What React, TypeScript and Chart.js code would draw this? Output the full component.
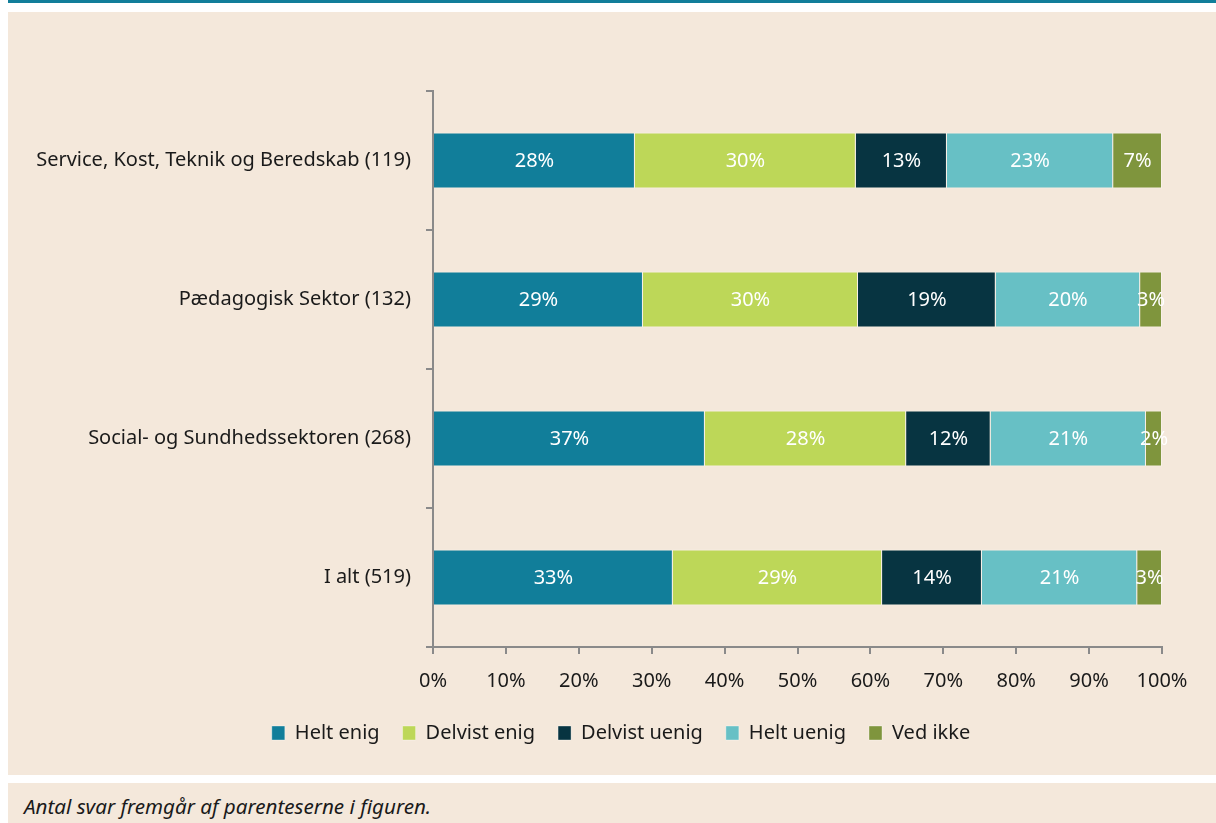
import React, { useEffect, useRef } from "react";
import { Chart, registerables } from "chart.js";

Chart.register(...registerables);

const categories = [
  "Service, Kost, Teknik og Beredskab (119)",
  "Pædagogisk Sektor (132)",
  "Social- og Sundhedssektoren (268)",
  "I alt (519)",
];
const seriesNames = ["Helt enig", "Delvist enig", "Delvist uenig", "Helt uenig", "Ved ikke"];
const heltEnig = [27.7, 28.8, 37.3, 32.9];
const delvistEnig = [30.3, 29.5, 27.6, 28.7];
const delvistUenig = [12.5, 18.9, 11.6, 13.7];
const heltUenig = [22.8, 19.8, 21.3, 21.3];
const vedIkke = [6.7, 3.0, 2.2, 3.4];
const xTicks = [0, 10, 20, 30, 40, 50, 60, 70, 80, 90, 100];
const footnote = "Antal svar fremgår af parenteserne i figuren.";

const colors = ["#117E9A", "#BDD758", "#073441", "#67C0C5", "#7F953D"];
const BG = "#F4E8DB";
const AXIS = "#8A8A8A";
const FONT = "'Noto Sans', 'Open Sans', sans-serif";
const FS = 20;

const labelPlugin = {
  id: "segLabels",
  afterDatasetsDraw(chart: any) {
    const ctx = chart.ctx;
    ctx.save();
    ctx.fillStyle = "#FFFFFF";
    ctx.font = `${FS}px ${FONT}`;
    ctx.textAlign = "center";
    ctx.textBaseline = "middle";
    chart.data.datasets.forEach((ds: any, di: number) => {
      const meta = chart.getDatasetMeta(di);
      meta.data.forEach((el: any, i: number) => {
        const v = ds.data[i];
        const p = el.getCenterPoint();
        ctx.fillText(Math.round(v) + "%", p.x, p.y + 1);
      });
    });
    ctx.restore();
  },
};

export default function App() {
  const ref = useRef<HTMLCanvasElement | null>(null);
  useEffect(() => {
    if (!ref.current) return;
    const all = [heltEnig, delvistEnig, delvistUenig, heltUenig, vedIkke];
    const chart = new Chart(ref.current, {
      type: "bar",
      data: {
        labels: categories,
        datasets: all.map((d, i) => ({
          label: seriesNames[i],
          data: d,
          backgroundColor: colors[i],
          borderColor: "rgba(255,255,255,0.35)",
          borderWidth: 1,
          barPercentage: 0.403,
          categoryPercentage: 1,
        })),
      },
      options: {
        indexAxis: "y",
        animation: false,
        responsive: false,
        maintainAspectRatio: false,
        layout: { padding: { top: 79, right: 0, bottom: 22, left: 18 } },
        scales: {
          x: {
            stacked: true,
            min: 0,
            max: 100,
            afterBuildTicks: (s: any) => {
              s.ticks = xTicks.map((v) => ({ value: v }));
            },
            afterFit: (s: any) => {
              s.height = s.height - 8;
            },
            ticks: {
              callback: (v: any) => v + "%",
              color: "#1A1A1A",
              font: { family: FONT, size: FS },
              padding: 15,
              maxRotation: 0,
            },
            grid: { drawOnChartArea: false, drawTicks: true, tickLength: 7, color: AXIS, lineWidth: 2 },
            border: { color: AXIS, width: 2 },
          },
          y: {
            stacked: true,
            afterFit: (s: any) => {
              s.width = 407;
            },
            ticks: {
              color: "#1A1A1A",
              font: { family: FONT, size: FS },
              padding: 15,
            },
            grid: { drawOnChartArea: false, drawTicks: true, tickLength: 7, color: AXIS, lineWidth: 2, offset: true },
            border: { color: AXIS, width: 2 },
          },
          yRight: {
            type: "category",
            position: "right",
            display: true,
            afterFit: (s: any) => {
              s.width = 54;
            },
            ticks: { display: false },
            grid: { display: false },
            border: { display: false },
          },
        },
        plugins: {
          legend: {
            position: "bottom",
            labels: {
              boxWidth: 13,
              boxHeight: 14,
              padding: 23,
              color: "#1A1A1A",
              font: { family: FONT, size: FS },
            },
          },
          tooltip: { enabled: false },
        },
      },
      plugins: [labelPlugin],
    } as any);
    return () => chart.destroy();
  }, []);

  return (
    <div style={{ position: "absolute", left: 0, top: 0, width: 1216, height: 823, background: "#FFFFFF" }}>
      <div style={{ position: "absolute", left: 8, top: 0, width: 1208, height: 3, background: "#117E9A" }} />
      <div style={{ position: "absolute", left: 8, top: 12, width: 1208, height: 763, background: BG }}>
        <canvas ref={ref} width={1208} height={763} style={{ display: "block", width: 1208, height: 763 }} />
      </div>
      <div
        style={{
          position: "absolute",
          left: 8,
          top: 783,
          width: 1208,
          height: 40,
          background: BG,
          fontFamily: FONT,
          fontStyle: "italic",
          fontSize: 20.6,
          color: "#1A1A1A",
          boxSizing: "border-box",
          paddingLeft: 16,
          paddingTop: 10,
          lineHeight: "26px",
          whiteSpace: "nowrap",
        }}
      >
        {footnote}
      </div>
    </div>
  );
}
